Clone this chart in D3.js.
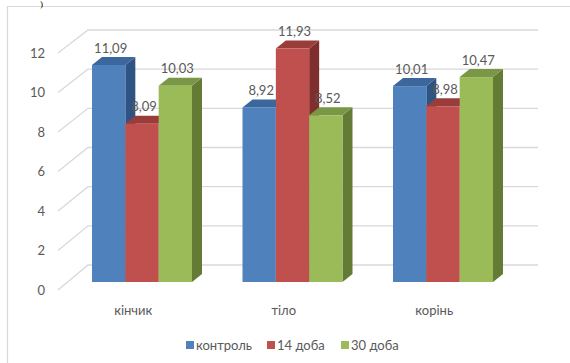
<!DOCTYPE html>
<html><head><meta charset="utf-8">
<script src="https://cdn.jsdelivr.net/npm/d3@7"></script>
<style>body{margin:0;background:#fff}svg{display:block}</style>
</head><body>
<svg id="c" width="570" height="363"></svg>
<script>
const categories = ["кінчик", "тіло", "корінь"];
const seriesNames = ["контроль", "14 доба", "30 доба"];
const control = [11.09, 8.92, 10.01];
const day14 = [8.09, 11.93, 8.98];
const day30 = [10.03, 8.52, 10.47];
const tickValues = [0, 2, 4, 6, 8, 10, 12];
const labelFmt = v => d3.format(".2f")(v).replace(".", ",");

const series = [control, day14, day30];
const front = ["#4F81BD", "#C0504D", "#9BBB59"];
const topC = ["#3C679C", "#9A3C3A", "#7A9745"];
const sideC = ["#2F5483", "#7E2F2D", "#647B36"];

const svg = d3.select("#c");
const font = "Lato, 'Open Sans', sans-serif";
const grey = "#595959";

// frame
svg.append("path").attr("d", "M7.5,363 L7.5,6.5 L570,6.5").attr("fill", "none").attr("stroke", "#d9d9d9").attr("stroke-width", 1.2);
svg.append("text").attr("x", 40).attr("y", 7).attr("font-family", "'Times New Roman', serif").attr("font-size", 9).attr("fill", "#000").text(")");

// scales
const yFront = d3.scaleLinear().domain([0, 12]).range([290, 53]);
const yBack = d3.scaleLinear().domain([0, 12]).range([265, 30]);
const yBar = d3.scaleLinear().domain([0, 12]).range([282, 282 - 12 * 19.57]);
const x0 = d3.scaleBand().domain(categories).range([67, 518.5]).paddingInner(0).paddingOuter(0);
const x1 = d3.scaleBand().domain(seriesNames).range([0, 100]);
const innerOff = 25;
const dx = 10, dy = 8;

// gridlines
const g = svg.append("g");
tickValues.forEach(v => {
  g.append("path")
    .attr("d", `M58,${yFront(v)} L88,${yBack(v)} L538,${yBack(v)}`)
    .attr("fill", "none").attr("stroke", "#d9d9d9").attr("stroke-width", 1.3);
  g.append("text").attr("x", 45).attr("y", yFront(v)).attr("dy", "0.35em")
    .attr("text-anchor", "end").attr("font-family", font).attr("font-size", 13)
    .attr("fill", grey).text(v);
});

// bars
const bars = svg.append("g");
categories.forEach((c, ci) => {
  seriesNames.forEach((s, si) => {
    const v = series[si][ci];
    const x = x0(c) + innerOff + x1(s);
    const w = x1.bandwidth();
    const t = yBar(v), b = yBar(0);
    bars.append("path").attr("fill", sideC[si])
      .attr("d", `M${x + w},${t} L${x + w + dx},${t - dy} L${x + w + dx},${b - dy} L${x + w},${b} Z`);
    bars.append("path").attr("fill", topC[si])
      .attr("d", `M${x},${t} L${x + w},${t} L${x + w + dx},${t - dy} L${x + dx},${t - dy} Z`);
    bars.append("rect").attr("x", x).attr("y", t).attr("width", w).attr("height", b - t).attr("fill", front[si]);
  });
});

// data labels
const labels = svg.append("g");
categories.forEach((c, ci) => {
  seriesNames.forEach((s, si) => {
    const v = series[si][ci];
    const x = x0(c) + innerOff + x1(s) + x1.bandwidth() / 2 + 2;
    labels.append("text").attr("x", x).attr("y", yBar(v) - 17).attr("dy", "0.35em")
      .attr("text-anchor", "middle").attr("font-family", font).attr("font-size", 13)
      .attr("fill", grey).text(labelFmt(v));
  });
});

// category labels
categories.forEach(c => {
  svg.append("text").attr("x", x0(c) + x0.bandwidth() / 2 - 9).attr("y", 310).attr("dy", "0.35em")
    .attr("text-anchor", "middle").attr("font-family", font).attr("font-size", 13)
    .attr("fill", grey).text(c);
});

// legend
const legX = [186, 267, 341];
const leg = svg.append("g");
seriesNames.forEach((s, i) => {
  leg.append("rect").attr("x", legX[i]).attr("y", 341).attr("width", 8).attr("height", 8).attr("fill", front[i]);
  leg.append("text").attr("x", legX[i] + 10).attr("y", 345).attr("dy", "0.35em")
    .attr("font-family", font).attr("font-size", 13).attr("fill", grey).text(s);
});
</script>
</body></html>
